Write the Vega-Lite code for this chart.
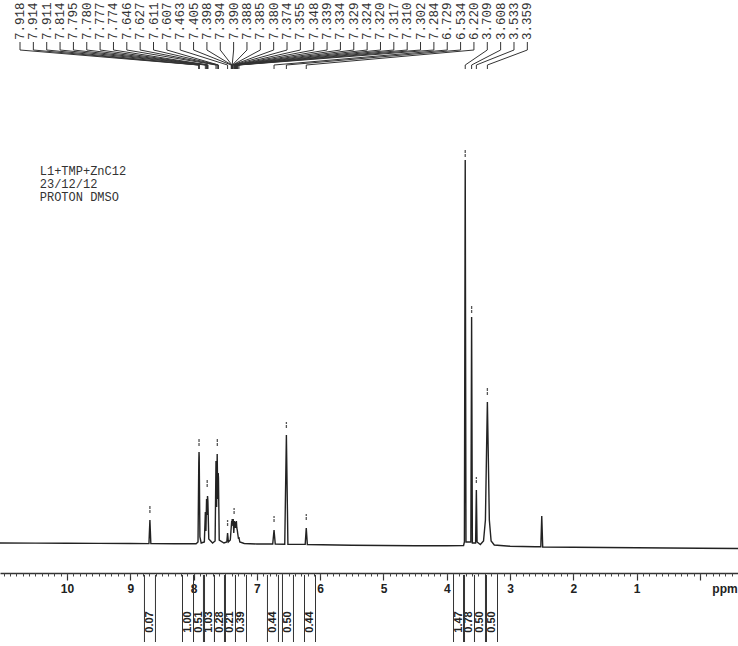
{
  "$schema": "https://vega.github.io/schema/vega-lite/v6.json",
  "width": 738,
  "height": 573,
  "autosize": {"type": "none"},
  "padding": {"left": 0, "top": 0, "right": 0, "bottom": 73},
  "background": "white",
  "config": {"view": {"stroke": null}},
  "datasets": {
    "spectrum": [
      {"ppm": 11.06, "intensity": 2}, {"ppm": 10.5, "intensity": 1.9}, {"ppm": 10, "intensity": 1.8}, {"ppm": 9.5, "intensity": 1.6},
      {"ppm": 9, "intensity": 1.5}, {"ppm": 8.705, "intensity": 1.4}, {"ppm": 8.69, "intensity": 25}, {"ppm": 8.675, "intensity": 1.4},
      {"ppm": 8.3, "intensity": 1.3}, {"ppm": 7.96, "intensity": 1.2}, {"ppm": 7.93, "intensity": 3}, {"ppm": 7.918, "intensity": 82},
      {"ppm": 7.914, "intensity": 93}, {"ppm": 7.911, "intensity": 88}, {"ppm": 7.9, "intensity": 8}, {"ppm": 7.88, "intensity": 2},
      {"ppm": 7.83, "intensity": 3}, {"ppm": 7.814, "intensity": 33}, {"ppm": 7.805, "intensity": 14}, {"ppm": 7.795, "intensity": 46},
      {"ppm": 7.787, "intensity": 30}, {"ppm": 7.78, "intensity": 49}, {"ppm": 7.777, "intensity": 47}, {"ppm": 7.774, "intensity": 44},
      {"ppm": 7.76, "intensity": 6}, {"ppm": 7.7, "intensity": 2}, {"ppm": 7.66, "intensity": 4}, {"ppm": 7.646, "intensity": 84},
      {"ppm": 7.636, "intensity": 38}, {"ppm": 7.627, "intensity": 91}, {"ppm": 7.618, "intensity": 46}, {"ppm": 7.611, "intensity": 72},
      {"ppm": 7.607, "intensity": 67}, {"ppm": 7.595, "intensity": 5}, {"ppm": 7.52, "intensity": 2}, {"ppm": 7.475, "intensity": 3},
      {"ppm": 7.463, "intensity": 12}, {"ppm": 7.45, "intensity": 3}, {"ppm": 7.42, "intensity": 5}, {"ppm": 7.405, "intensity": 18},
      {"ppm": 7.398, "intensity": 24}, {"ppm": 7.394, "intensity": 19}, {"ppm": 7.39, "intensity": 26}, {"ppm": 7.388, "intensity": 21},
      {"ppm": 7.385, "intensity": 25}, {"ppm": 7.38, "intensity": 21}, {"ppm": 7.374, "intensity": 26}, {"ppm": 7.365, "intensity": 12},
      {"ppm": 7.355, "intensity": 24}, {"ppm": 7.348, "intensity": 21}, {"ppm": 7.339, "intensity": 17}, {"ppm": 7.334, "intensity": 23},
      {"ppm": 7.329, "intensity": 19}, {"ppm": 7.324, "intensity": 24}, {"ppm": 7.32, "intensity": 20}, {"ppm": 7.317, "intensity": 17},
      {"ppm": 7.31, "intensity": 15}, {"ppm": 7.302, "intensity": 11}, {"ppm": 7.29, "intensity": 6}, {"ppm": 7.284, "intensity": 8},
      {"ppm": 7.27, "intensity": 3}, {"ppm": 7.2, "intensity": 1.5}, {"ppm": 7.0, "intensity": 1}, {"ppm": 6.75, "intensity": 1},
      {"ppm": 6.729, "intensity": 15}, {"ppm": 6.71, "intensity": 1}, {"ppm": 6.56, "intensity": 0.8}, {"ppm": 6.534, "intensity": 110},
      {"ppm": 6.51, "intensity": 0.8}, {"ppm": 6.4, "intensity": 0.6}, {"ppm": 6.237, "intensity": 0.6}, {"ppm": 6.22, "intensity": 17},
      {"ppm": 6.203, "intensity": 0.5}, {"ppm": 5.5, "intensity": -0.3}, {"ppm": 5.0, "intensity": -0.5}, {"ppm": 4.5, "intensity": -0.8},
      {"ppm": 4.0, "intensity": -0.8}, {"ppm": 3.735, "intensity": -0.5}, {"ppm": 3.722, "intensity": 3}, {"ppm": 3.709, "intensity": 385},
      {"ppm": 3.697, "intensity": 3}, {"ppm": 3.62, "intensity": 3}, {"ppm": 3.608, "intensity": 228}, {"ppm": 3.596, "intensity": 2},
      {"ppm": 3.545, "intensity": 2}, {"ppm": 3.533, "intensity": 55}, {"ppm": 3.522, "intensity": 3}, {"ppm": 3.47, "intensity": 0.5},
      {"ppm": 3.42, "intensity": 4}, {"ppm": 3.39, "intensity": 25}, {"ppm": 3.372, "intensity": 95}, {"ppm": 3.359, "intensity": 143},
      {"ppm": 3.346, "intensity": 95}, {"ppm": 3.328, "intensity": 25}, {"ppm": 3.3, "intensity": 4}, {"ppm": 3.25, "intensity": 0},
      {"ppm": 3.0, "intensity": -1.2}, {"ppm": 2.6, "intensity": -1.8}, {"ppm": 2.515, "intensity": -1.8}, {"ppm": 2.5, "intensity": 29},
      {"ppm": 2.485, "intensity": -2}, {"ppm": 2.0, "intensity": -2.2}, {"ppm": 1.0, "intensity": -2.8}, {"ppm": 0, "intensity": -3.2},
      {"ppm": -0.6, "intensity": -3.5}
    ],
    "peaks": [
      {"shift": 7.918}, {"shift": 7.914}, {"shift": 7.911}, {"shift": 7.814}, {"shift": 7.795}, {"shift": 7.780}, {"shift": 7.777},
      {"shift": 7.774}, {"shift": 7.646}, {"shift": 7.627}, {"shift": 7.611}, {"shift": 7.607}, {"shift": 7.463}, {"shift": 7.405},
      {"shift": 7.398}, {"shift": 7.394}, {"shift": 7.390}, {"shift": 7.388}, {"shift": 7.385}, {"shift": 7.380}, {"shift": 7.374},
      {"shift": 7.355}, {"shift": 7.348}, {"shift": 7.339}, {"shift": 7.334}, {"shift": 7.329}, {"shift": 7.324}, {"shift": 7.320},
      {"shift": 7.317}, {"shift": 7.310}, {"shift": 7.302}, {"shift": 7.284}, {"shift": 6.729}, {"shift": 6.534}, {"shift": 6.220},
      {"shift": 3.709}, {"shift": 3.608}, {"shift": 3.533}, {"shift": 3.359}
    ],
    "markers": [
      {"ppm": 8.69, "lo": 32, "hi": 39}, {"ppm": 7.914, "lo": 99, "hi": 106}, {"ppm": 7.785, "lo": 58, "hi": 65},
      {"ppm": 7.625, "lo": 99, "hi": 106}, {"ppm": 7.463, "lo": 19, "hi": 25}, {"ppm": 7.36, "lo": 31, "hi": 37},
      {"ppm": 6.729, "lo": 23, "hi": 29}, {"ppm": 6.534, "lo": 117, "hi": 123}, {"ppm": 6.22, "lo": 25, "hi": 31},
      {"ppm": 3.709, "lo": 388, "hi": 395}, {"ppm": 3.608, "lo": 232, "hi": 240}, {"ppm": 3.533, "lo": 62, "hi": 68},
      {"ppm": 3.359, "lo": 150, "hi": 158}
    ],
    "integrals": [
      {"ppm": 8.689, "value": 0.07}, {"ppm": 8.088, "value": 1.00}, {"ppm": 7.914, "value": 0.51}, {"ppm": 7.757, "value": 1.03},
      {"ppm": 7.583, "value": 0.28}, {"ppm": 7.425, "value": 0.21}, {"ppm": 7.251, "value": 0.39}, {"ppm": 6.746, "value": 0.44},
      {"ppm": 6.509, "value": 0.50}, {"ppm": 6.161, "value": 0.44}, {"ppm": 3.807, "value": 1.47}, {"ppm": 3.649, "value": 0.78},
      {"ppm": 3.476, "value": 0.50}, {"ppm": 3.286, "value": 0.50}
    ],
    "header": [{"line": "L1+TMP+ZnC12"}],
    "unit": [{"name": "ppm"}]
  },
  "resolve": {"axis": {"x": "independent"}},
  "layer": [
    {
      "data": {"name": "spectrum"},
      "mark": {"type": "line", "color": "#222", "strokeWidth": 1.4, "clip": false},
      "encoding": {
        "x": {"field": "ppm", "type": "quantitative",
          "scale": {"domain": [-0.6, 11.058], "reverse": true, "nice": false, "zero": false},
          "axis": {"orient": "bottom", "values": [0,1,2,3,4,5,6,7,8,9,10], "format": "d",
            "labelExpr": "datum.value == 0 ? '' : datum.label", "title": null, "grid": false,
            "domainColor": "#333", "domainWidth": 1.3, "tickColor": "#333", "tickSize": 7, "tickWidth": 1.2,
            "labelFont": "Liberation Sans", "labelFontWeight": "bold", "labelFontSize": 12, "labelColor": "#222",
            "labelPadding": 3, "labelFlush": false, "labelOverlap": false}},
        "y": {"field": "intensity", "type": "quantitative",
          "scale": {"domain": [-28, 545], "nice": false, "zero": false}, "axis": null}
      }
    },
    {
      "data": {"name": "markers"},
      "mark": {"type": "rule", "color": "#555", "strokeWidth": 1.3, "strokeDash": [3, 1], "clip": false},
      "encoding": {
        "x": {"field": "ppm", "type": "quantitative",
          "scale": {"domain": [-0.6, 11.058], "reverse": true, "nice": false, "zero": false},
          "axis": {"orient": "bottom", "tickCount": 116, "labels": false, "domain": false, "title": null, "grid": false,
            "tickSize": 3, "tickColor": "#444", "tickWidth": 1}},
        "y": {"field": "lo", "type": "quantitative", "scale": {"domain": [-28, 545], "nice": false, "zero": false}, "axis": null},
        "y2": {"field": "hi"}
      }
    },
    {
      "data": {"name": "peaks"},
      "transform": [
        {"window": [{"op": "row_number", "as": "rank"}]},
        {"calculate": "10.742 - 0.2109 * (datum.rank - 1)", "as": "slot"}
      ],
      "layer": [
        {
          "mark": {"type": "text", "angle": 270, "align": "left", "baseline": "middle", "font": "Liberation Mono", "fontSize": 12.5, "color": "#333", "clip": false},
          "encoding": {
            "x": {"field": "slot", "type": "quantitative", "scale": {"domain": [-0.6, 11.058], "reverse": true, "nice": false, "zero": false}, "axis": null},
            "y": {"datum": 505, "type": "quantitative", "scale": {"domain": [-28, 545], "nice": false, "zero": false}, "axis": null},
            "text": {"field": "shift", "type": "quantitative", "format": ".3f"}
          }
        },
        {
          "mark": {"type": "rule", "color": "#333", "strokeWidth": 1, "clip": false},
          "encoding": {
            "x": {"field": "slot", "type": "quantitative", "scale": {"domain": [-0.6, 11.058], "reverse": true, "nice": false, "zero": false}, "axis": null},
            "y": {"datum": 503, "type": "quantitative", "scale": {"domain": [-28, 545], "nice": false, "zero": false}, "axis": null},
            "y2": {"datum": 495}
          }
        },
        {
          "mark": {"type": "rule", "color": "#333", "strokeWidth": 1, "clip": false},
          "encoding": {
            "x": {"field": "slot", "type": "quantitative", "scale": {"domain": [-0.6, 11.058], "reverse": true, "nice": false, "zero": false}, "axis": null},
            "x2": {"field": "shift"},
            "y": {"datum": 495, "type": "quantitative", "scale": {"domain": [-28, 545], "nice": false, "zero": false}, "axis": null},
            "y2": {"datum": 480}
          }
        },
        {
          "mark": {"type": "rule", "color": "#333", "strokeWidth": 1, "clip": false},
          "encoding": {
            "x": {"field": "shift", "type": "quantitative", "scale": {"domain": [-0.6, 11.058], "reverse": true, "nice": false, "zero": false}, "axis": null},
            "y": {"datum": 480, "type": "quantitative", "scale": {"domain": [-28, 545], "nice": false, "zero": false}, "axis": null},
            "y2": {"datum": 476}
          }
        }
      ]
    },
    {
      "data": {"name": "integrals"},
      "layer": [
        {
          "mark": {"type": "text", "angle": 270, "align": "center", "baseline": "middle", "font": "Liberation Sans", "fontWeight": "bold", "fontSize": 11, "color": "#222", "clip": false},
          "encoding": {
            "x": {"field": "ppm", "type": "quantitative", "scale": {"domain": [-0.6, 11.058], "reverse": true, "nice": false, "zero": false}, "axis": null},
            "y": {"datum": -77, "type": "quantitative", "scale": {"domain": [-28, 545], "nice": false, "zero": false}, "axis": null},
            "text": {"field": "value", "type": "quantitative", "format": ".2f"}
          }
        },
        {
          "mark": {"type": "rule", "color": "#333", "strokeWidth": 1, "xOffset": -5.5, "clip": false},
          "encoding": {
            "x": {"field": "ppm", "type": "quantitative", "scale": {"domain": [-0.6, 11.058], "reverse": true, "nice": false, "zero": false}, "axis": null},
            "y": {"datum": -30, "type": "quantitative", "scale": {"domain": [-28, 545], "nice": false, "zero": false}, "axis": null},
            "y2": {"datum": -97}
          }
        },
        {
          "mark": {"type": "rule", "color": "#333", "strokeWidth": 1, "xOffset": 5.5, "clip": false},
          "encoding": {
            "x": {"field": "ppm", "type": "quantitative", "scale": {"domain": [-0.6, 11.058], "reverse": true, "nice": false, "zero": false}, "axis": null},
            "y": {"datum": -30, "type": "quantitative", "scale": {"domain": [-28, 545], "nice": false, "zero": false}, "axis": null},
            "y2": {"datum": -97}
          }
        }
      ]
    },
    {
      "data": {"name": "header"},
      "mark": {"type": "text", "align": "left", "baseline": "top", "font": "Liberation Mono", "fontSize": 12, "lineHeight": 13, "color": "#333", "clip": false},
      "encoding": {
        "x": {"datum": 10.43, "type": "quantitative", "scale": {"domain": [-0.6, 11.058], "reverse": true, "nice": false, "zero": false}, "axis": null},
        "y": {"datum": 379, "type": "quantitative", "scale": {"domain": [-28, 545], "nice": false, "zero": false}, "axis": null},
        "text": {"value": ["L1+TMP+ZnC12", "23/12/12", "PROTON DMSO"]}
      }
    },
    {
      "data": {"name": "unit"},
      "mark": {"type": "text", "align": "center", "baseline": "middle", "font": "Liberation Sans", "fontWeight": "bold", "fontSize": 12, "color": "#222", "clip": false},
      "encoding": {
        "x": {"datum": -0.395, "type": "quantitative", "scale": {"domain": [-0.6, 11.058], "reverse": true, "nice": false, "zero": false}, "axis": null},
        "y": {"datum": -44, "type": "quantitative", "scale": {"domain": [-28, 545], "nice": false, "zero": false}, "axis": null},
        "text": {"field": "name", "type": "nominal"}
      }
    }
  ]
}
